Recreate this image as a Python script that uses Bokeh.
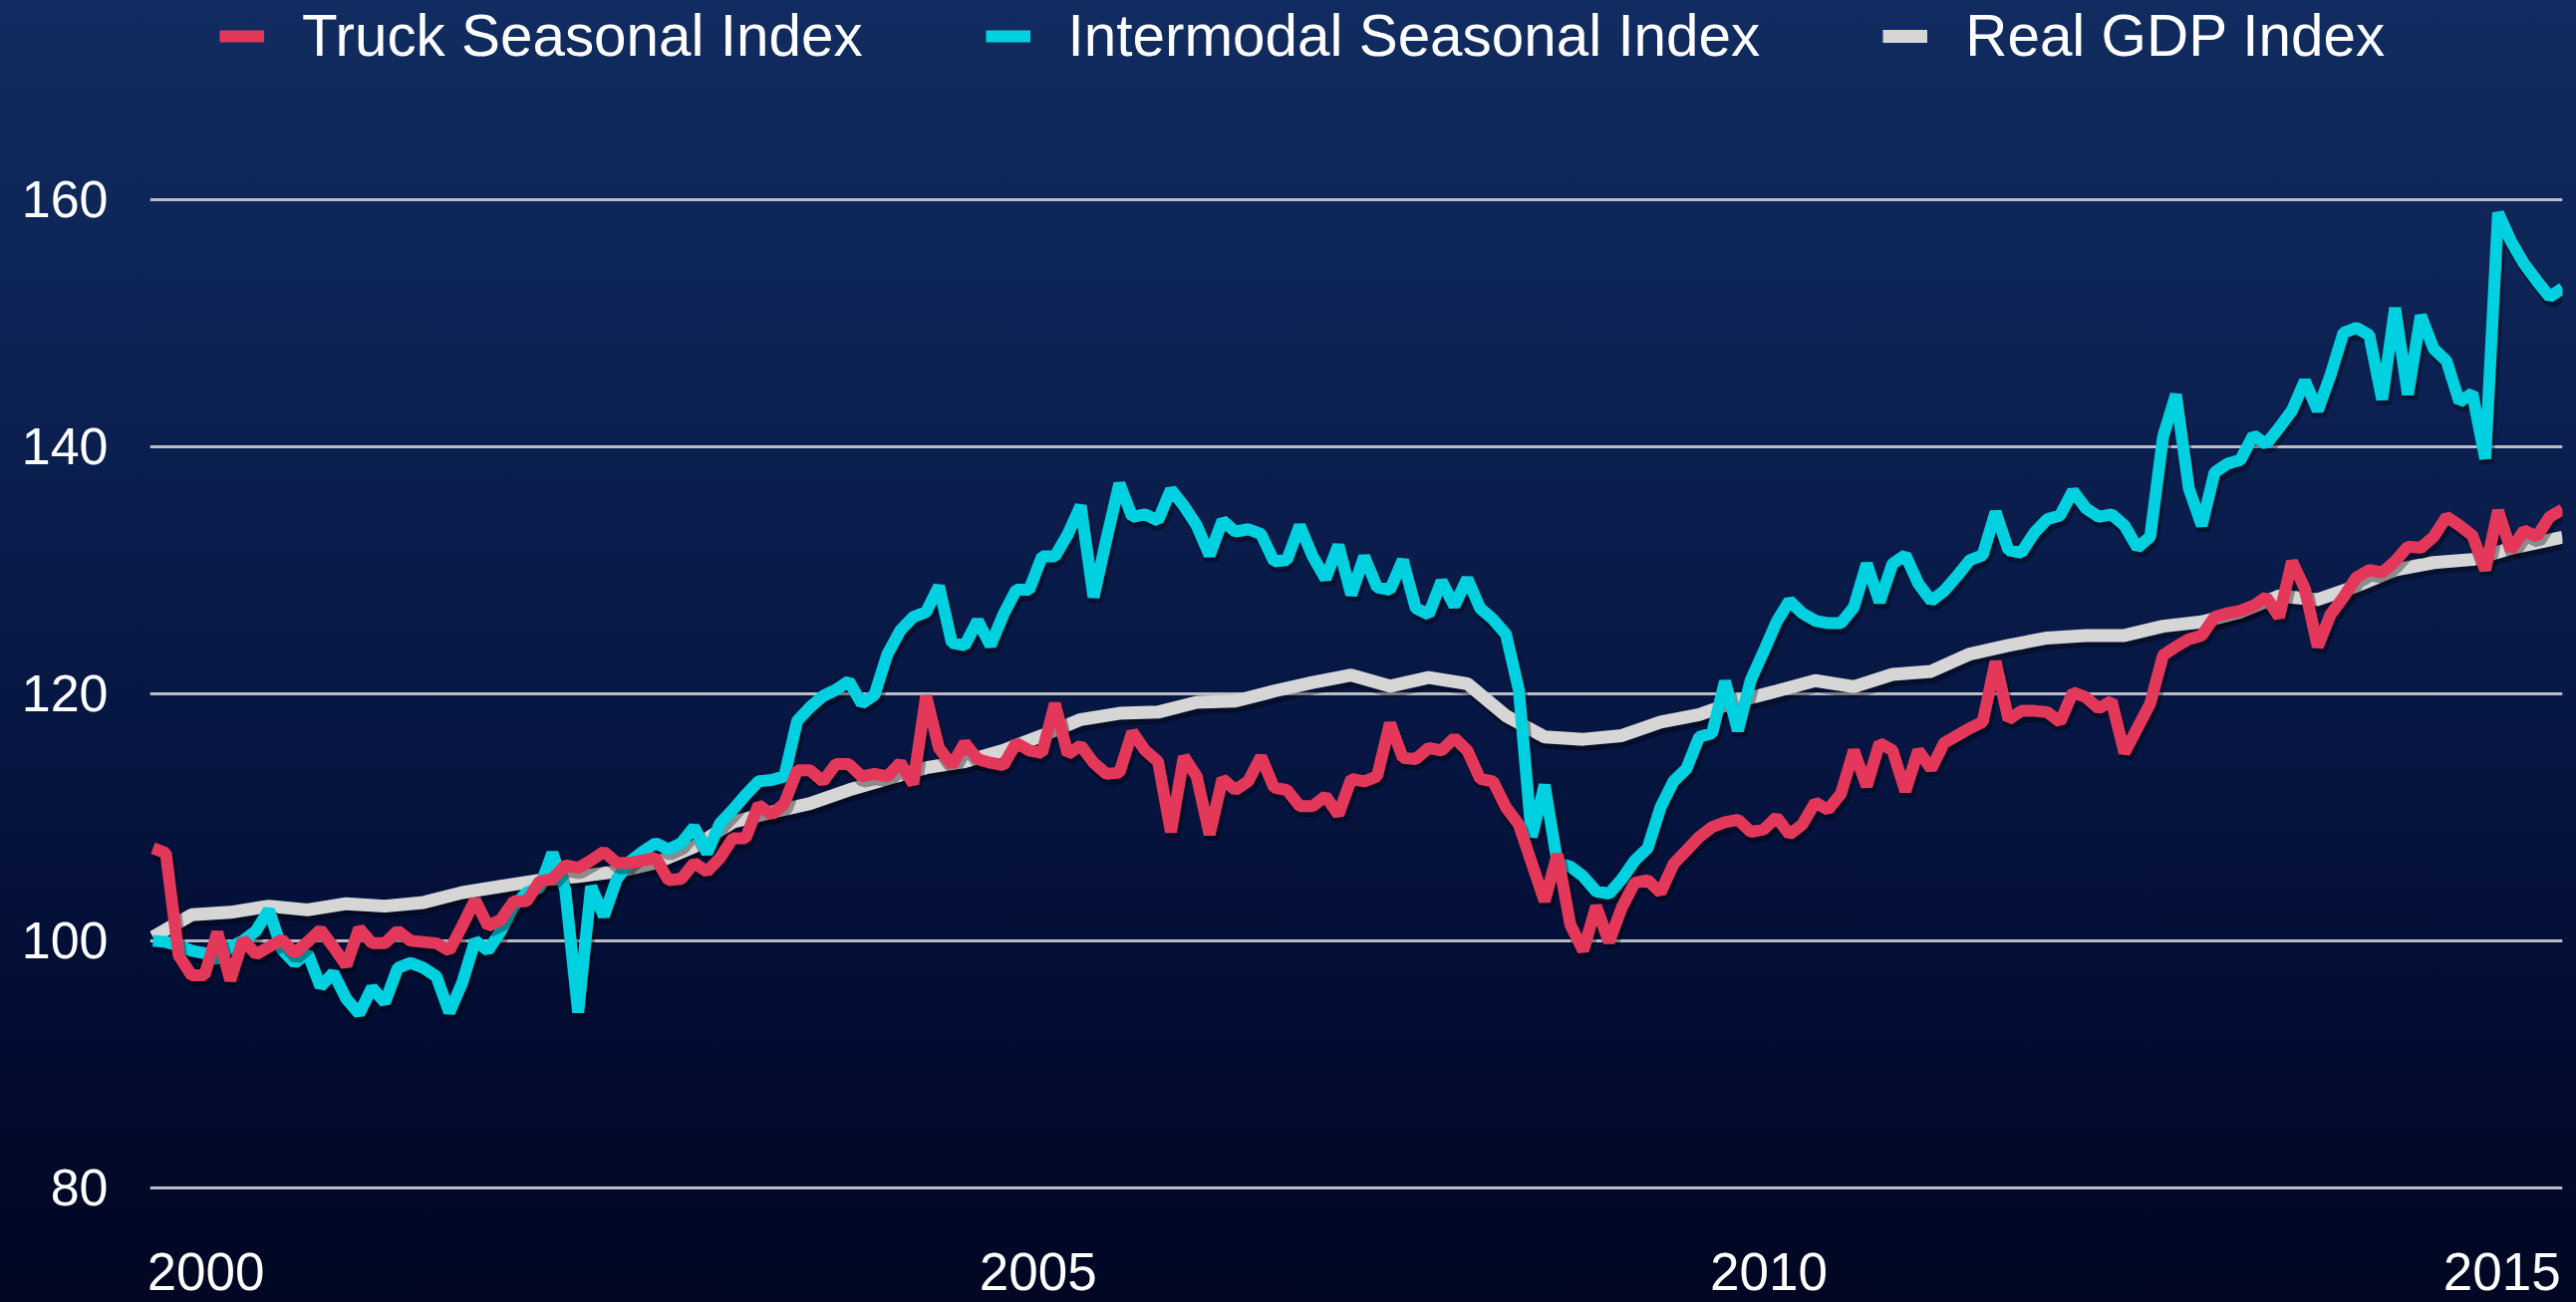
from bokeh.plotting import figure
from bokeh.models import (Range1d, FixedTicker, Legend, LegendItem,
                          GlobalInlineStyleSheet, ColumnDataSource)
from bokeh.core.properties import value
from bokeh.embed import file_html
from bokeh.resources import INLINE

# ---------------- data (monthly index 0 = first month) ----------------
truck = [
    107.5, 107.1, 98.8, 97.2, 97.2, 100.7, 96.8, 100.1, 98.9, 99.5,
    100.1, 99.0, 99.9, 100.9, 99.5, 98.0, 101.0, 99.8, 99.8, 100.8,
    100.0, 99.9, 99.8, 99.2, 101.2, 103.3, 101.2, 101.7, 103.2, 103.2,
    104.8, 105.0, 106.1, 105.9, 106.5, 107.2, 106.3, 106.3, 106.5, 106.7,
    104.9, 105.0, 106.3, 105.6, 106.7, 108.3, 108.3, 111.0, 110.2, 111.1,
    113.8, 113.8, 112.9, 114.3, 114.3, 113.3, 113.5, 113.3, 114.4, 112.7,
    119.8, 115.6, 114.2, 116.0, 114.7, 114.4, 114.2, 116.0, 115.4, 115.2,
    119.2, 115.1, 115.8, 114.4, 113.5, 113.6, 116.9, 115.4, 114.5, 108.8,
    114.9, 113.3, 108.6, 113.1, 112.2, 112.9, 114.9, 112.4, 112.2, 110.9,
    110.9, 111.7, 110.2, 113.1, 112.9, 113.3, 117.6, 114.8, 114.7, 115.6,
    115.4, 116.4, 115.4, 113.1, 112.9, 110.8, 109.4, 106.3, 103.2, 107.0,
    101.3, 99.2, 102.8, 99.9, 102.7, 104.7, 104.9, 103.9, 106.2, 107.3,
    108.4, 109.2, 109.6, 109.8, 108.8, 109.0, 110.0, 108.6, 109.4, 111.2,
    110.6, 111.9, 115.4, 112.5, 116.0, 115.4, 112.1, 115.4, 113.9, 116.0,
    116.6, 117.2, 117.7, 122.6, 117.9, 118.6, 118.6, 118.5, 117.7, 120.1,
    119.7, 118.8, 119.4, 115.2, 117.2, 119.2, 123.1, 123.8, 124.4, 124.7,
    126.2, 126.5, 126.7, 127.1, 127.8, 126.2, 130.7, 128.5, 123.8, 126.4,
    127.8, 129.4, 130.0, 129.8, 130.7, 131.9, 131.8, 132.7, 134.3, 133.6,
    132.8, 130.0, 134.8, 131.6, 133.2, 132.7, 134.3, 134.9,
]

intermodal = [
    100.0, 99.9, 99.6, 99.2, 99.0, 98.5, 99.5, 100.0, 100.8, 102.5,
    99.3, 98.2, 99.0, 96.3, 97.4, 95.3, 94.1, 96.2, 95.0, 97.8,
    98.2, 97.8, 97.1, 94.2, 96.6, 100.0, 99.2, 100.8, 102.8, 103.9,
    104.3, 107.1, 104.1, 94.2, 104.4, 102.0, 105.0, 106.4, 107.2, 107.9,
    107.4, 107.9, 109.2, 107.1, 109.5, 110.6, 111.8, 112.9, 113.0, 113.3,
    117.8, 118.9, 119.8, 120.3, 121.0, 119.2, 119.9, 123.2, 125.1, 126.2,
    126.6, 128.7, 124.1, 123.9, 125.9, 123.9, 126.4, 128.4, 128.4, 131.1,
    131.1, 132.9, 135.2, 127.8, 132.5, 137.0, 134.3, 134.5, 134.0, 136.5,
    135.2, 133.6, 131.2, 134.0, 133.1, 133.3, 132.9, 130.7, 130.8, 133.6,
    131.1, 129.3, 132.0, 128.0, 131.1, 128.6, 128.4, 130.8, 126.9, 126.4,
    129.1, 127.1, 129.3, 126.9, 126.0, 124.8, 120.3, 108.4, 112.6, 106.3,
    106.0, 105.2, 104.0, 103.8, 105.0, 106.5, 107.5, 110.8, 112.9, 113.9,
    116.5, 116.8, 121.0, 117.0, 121.1, 123.4, 125.8, 127.5, 126.5, 125.9,
    125.7, 125.7, 127.0, 130.5, 127.4, 130.5, 131.2, 128.9, 127.5, 128.3,
    129.5, 130.8, 131.2, 134.7, 131.6, 131.4, 133.0, 134.1, 134.4, 136.4,
    135.0, 134.3, 134.5, 133.6, 131.8, 132.7, 140.8, 144.2, 136.6, 133.6,
    137.9, 138.6, 138.9, 140.9, 140.2, 141.5, 142.9, 145.3, 142.9, 145.8,
    149.2, 149.6, 149.0, 143.8, 151.2, 144.2, 150.6, 147.9, 146.9, 143.6,
    144.3, 139.0, 158.9, 156.6, 154.8, 153.4, 152.1, 152.8,
]

# quarterly real GDP index
gdp = [
    100.3, 102.1, 102.3, 102.8, 102.5, 103.0, 102.8, 103.1, 103.9, 104.4,
    104.9, 105.2, 105.6, 106.3, 107.6, 109.6, 110.4, 111.1, 112.2, 113.1,
    114.0, 114.5, 115.4, 116.6, 117.9, 118.4, 118.5, 119.3, 119.4, 120.2,
    120.9, 121.5, 120.6, 121.3, 120.8, 118.2, 116.5, 116.3, 116.6, 117.7,
    118.3, 119.4, 120.2, 121.05, 120.55, 121.55, 121.8, 123.2, 123.9, 124.5,
    124.7, 124.7, 125.45, 125.8, 126.6, 127.9, 127.6, 128.7, 130.0, 130.6,
    130.85, 131.75, 132.65,
]
gdp_month = [3 * q for q in range(len(gdp) - 1)] + [len(truck) - 1]
months = list(range(len(truck)))

year_labels = ["2000", "2005", "2010", "2015"]
year_label_month = [4.1, 68.7, 125.4, 182.3]
y_ticks = [80, 100, 120, 140, 160]
series_names = ["Truck Seasonal Index", "Intermodal Seasonal Index", "Real GDP Index"]

# ---------------- style / layout ----------------
RED = "#e4385b"
CYAN = "#00d1e0"
GREY = "#d6d6d6"
FONT = "Liberation Sans"
W, H = 2577, 1306
PX_PER_UNIT = 12.406
Y0 = 80 - (H - 1192) / PX_PER_UNIT
Y1 = 160 + 199.5 / PX_PER_UNIT
X0, X1 = -0.232, 187
SH_DX, SH_DY = 0.15, 0.35
LABEL_LIFT = 30 / PX_PER_UNIT

css = GlobalInlineStyleSheet(css="""
html { min-height: 100%; background: linear-gradient(180deg, #112c60 0%, #0c2152 30%, #061541 58%, #020b30 82%, #010722 100%); }
body { background: transparent; }
""")

p = figure(width=W, height=H, output_backend="svg", toolbar_location=None,
           x_range=Range1d(X0, X1), y_range=Range1d(Y0, Y1),
           x_axis_location=None,
           min_border_left=150, min_border_right=6, min_border_top=0, min_border_bottom=0,
           background_fill_color=None, border_fill_color=None, outline_line_color=None)
p.stylesheets = [css]

ticker = FixedTicker(ticks=y_ticks)
p.yaxis.ticker = ticker
p.ygrid.ticker = ticker
p.yaxis.axis_line_color = None
p.yaxis.major_tick_line_color = None
p.yaxis.minor_tick_line_color = None
p.yaxis.major_label_standoff = 36
p.yaxis.major_label_text_font = FONT
p.yaxis.major_label_text_font_size = "52px"
p.yaxis.major_label_text_color = "white"
p.xgrid.visible = False
p.ygrid.grid_line_color = "#bcbcc6"
p.ygrid.grid_line_width = 3

def add_series(xs, ys, color, width):
    sh = ColumnDataSource(dict(x=[v + SH_DX for v in xs], y=[v - SH_DY for v in ys]))
    p.line("x", "y", source=sh, line_color="black", line_alpha=0.35,
           line_width=width + 2, line_join="bevel")
    src = ColumnDataSource(dict(x=xs, y=ys))
    return p.line("x", "y", source=src, line_color=color, line_width=width,
                  line_join="bevel")

r_gdp = add_series(gdp_month, gdp, GREY, 13)
r_int = add_series(months, intermodal, CYAN, 12)
r_trk = add_series(months, truck, RED, 12)

p.text(x=year_label_month, y=[Y0 + LABEL_LIFT] * len(year_labels), text=year_labels,
       text_align="center", text_baseline="alphabetic", text_color="white",
       text_font=value(FONT), text_font_size="53px")

legend = Legend(items=[LegendItem(label=series_names[0], renderers=[r_trk]),
                       LegendItem(label=series_names[1], renderers=[r_int]),
                       LegendItem(label=series_names[2], renderers=[r_gdp])],
                orientation="horizontal", location=(70, H - 69),
                glyph_width=45, glyph_height=40, label_standoff=38, spacing=123,
                label_text_font=FONT, label_text_font_size="58.4px",
                label_text_color="white", background_fill_alpha=0,
                border_line_alpha=0, padding=0, margin=0)
p.add_layout(legend)

open("out.html", "w").write(file_html(p, INLINE))
